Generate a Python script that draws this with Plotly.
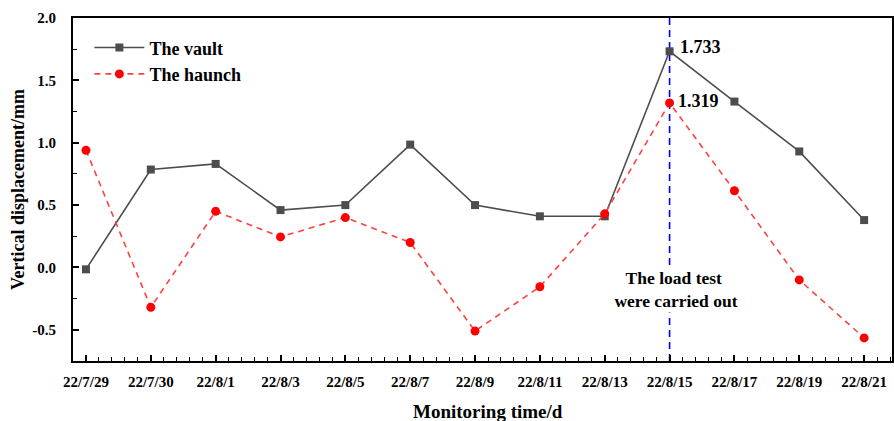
import plotly.graph_objects as go

dates = ["22/7/29", "22/7/30", "22/8/1", "22/8/3", "22/8/5", "22/8/7", "22/8/9",
         "22/8/11", "22/8/13", "22/8/15", "22/8/17", "22/8/19", "22/8/21"]
vault = [-0.015, 0.785, 0.83, 0.46, 0.50, 0.985, 0.50, 0.41, 0.41, 1.733, 1.33, 0.93, 0.38]
haunch = [0.94, -0.32, 0.45, 0.245, 0.40, 0.20, -0.51, -0.155, 0.43, 1.319, 0.615, -0.10, -0.565]
load_test_date = "22/8/15"

FONT = "Times New Roman, Liberation Serif, serif"
idx = list(range(len(dates)))
peak = dates.index(load_test_date)

fig = go.Figure()
fig.add_trace(go.Scatter(
    x=idx, y=vault, name="<b>The vault</b>", mode="lines+markers",
    line=dict(color="#4d4d4d", width=1.6),
    marker=dict(symbol="square", size=8, color="#4d4d4d"),
))
fig.add_trace(go.Scatter(
    x=idx, y=haunch, name="<b>The haunch</b>", mode="lines+markers",
    line=dict(color="#ff4040", width=1.6, dash="6px,5px"),
    marker=dict(symbol="circle", size=9, color="#ff0000"),
))

# vertical marker for the load test day
fig.add_shape(type="line", xref="x", yref="paper", x0=peak, x1=peak, y0=0, y1=1,
              line=dict(color="#0000ff", width=1.6, dash="7px,5px"), layer="below")

fig.add_annotation(x=peak, y=vault[peak], text=f"<b>{vault[peak]:.3f}</b>", showarrow=False,
                   xanchor="left", xshift=8, yshift=4, font=dict(family=FONT, size=18, color="black"))
fig.add_annotation(x=peak, y=haunch[peak], text=f"<b>{haunch[peak]:.3f}</b>", showarrow=False,
                   xanchor="left", xshift=6, yshift=2, font=dict(family=FONT, size=18, color="black"))
fig.add_annotation(x=peak, y=-0.175, text="<b>The load test<br> were carried out</b>", showarrow=False,
                   xanchor="center", xshift=4, bgcolor="white",
                   font=dict(family=FONT, size=17.5, color="black"))
fig.add_annotation(xref="paper", yref="paper", x=0.507, y=-0.146, yanchor="middle",
                   text="<b>Monitoring time/d</b>", showarrow=False,
                   font=dict(family=FONT, size=19, color="black"))

fig.update_layout(
    width=894, height=421,
    margin=dict(l=73, r=0, t=18, b=60),
    paper_bgcolor="white", plot_bgcolor="white",
    font=dict(family=FONT, color="black"),
    showlegend=True,
    legend=dict(x=0.02, y=0.967, xanchor="left", yanchor="top",
                bgcolor="rgba(0,0,0,0)", font=dict(family=FONT, size=18),
                tracegroupgap=0, itemwidth=50),
)
fig.update_xaxes(
    range=[-0.2, 12.43], tickmode="array", tickvals=idx,
    ticktext=[f"<b>{d}</b>" for d in dates],
    tickfont=dict(family=FONT, size=15), showgrid=False, zeroline=False,
    showline=True, linecolor="black", linewidth=2, mirror=True,
    ticks="inside", ticklen=6, tickwidth=1.5, tickcolor="black", ticklabelstandoff=6,
    minor=dict(tickmode="linear", tick0=0, dtick=0.2, ticks="inside", ticklen=4,
               tickwidth=1.2, tickcolor="black"),
)
fig.update_yaxes(
    range=[-0.75, 2.0], tickmode="array", tickvals=[-0.5, 0, 0.5, 1.0, 1.5, 2.0],
    ticktext=["<b>-0.5</b>", "<b>0.0</b>", "<b>0.5</b>", "<b>1.0</b>", "<b>1.5</b>", "<b>2.0</b>"],
    tickfont=dict(family=FONT, size=15), showgrid=False, zeroline=False,
    showline=True, linecolor="black", linewidth=2, mirror=True,
    ticks="inside", ticklen=6, tickwidth=1.5, tickcolor="black", ticklabelstandoff=12,
    minor=dict(tickmode="linear", tick0=-0.75, dtick=0.25, ticks="inside", ticklen=4,
               tickwidth=1.2, tickcolor="black"),
    title=dict(text="<b>Vertical displacement/mm</b>", font=dict(family=FONT, size=18), standoff=3),
)

fig.write_html("out.html")
